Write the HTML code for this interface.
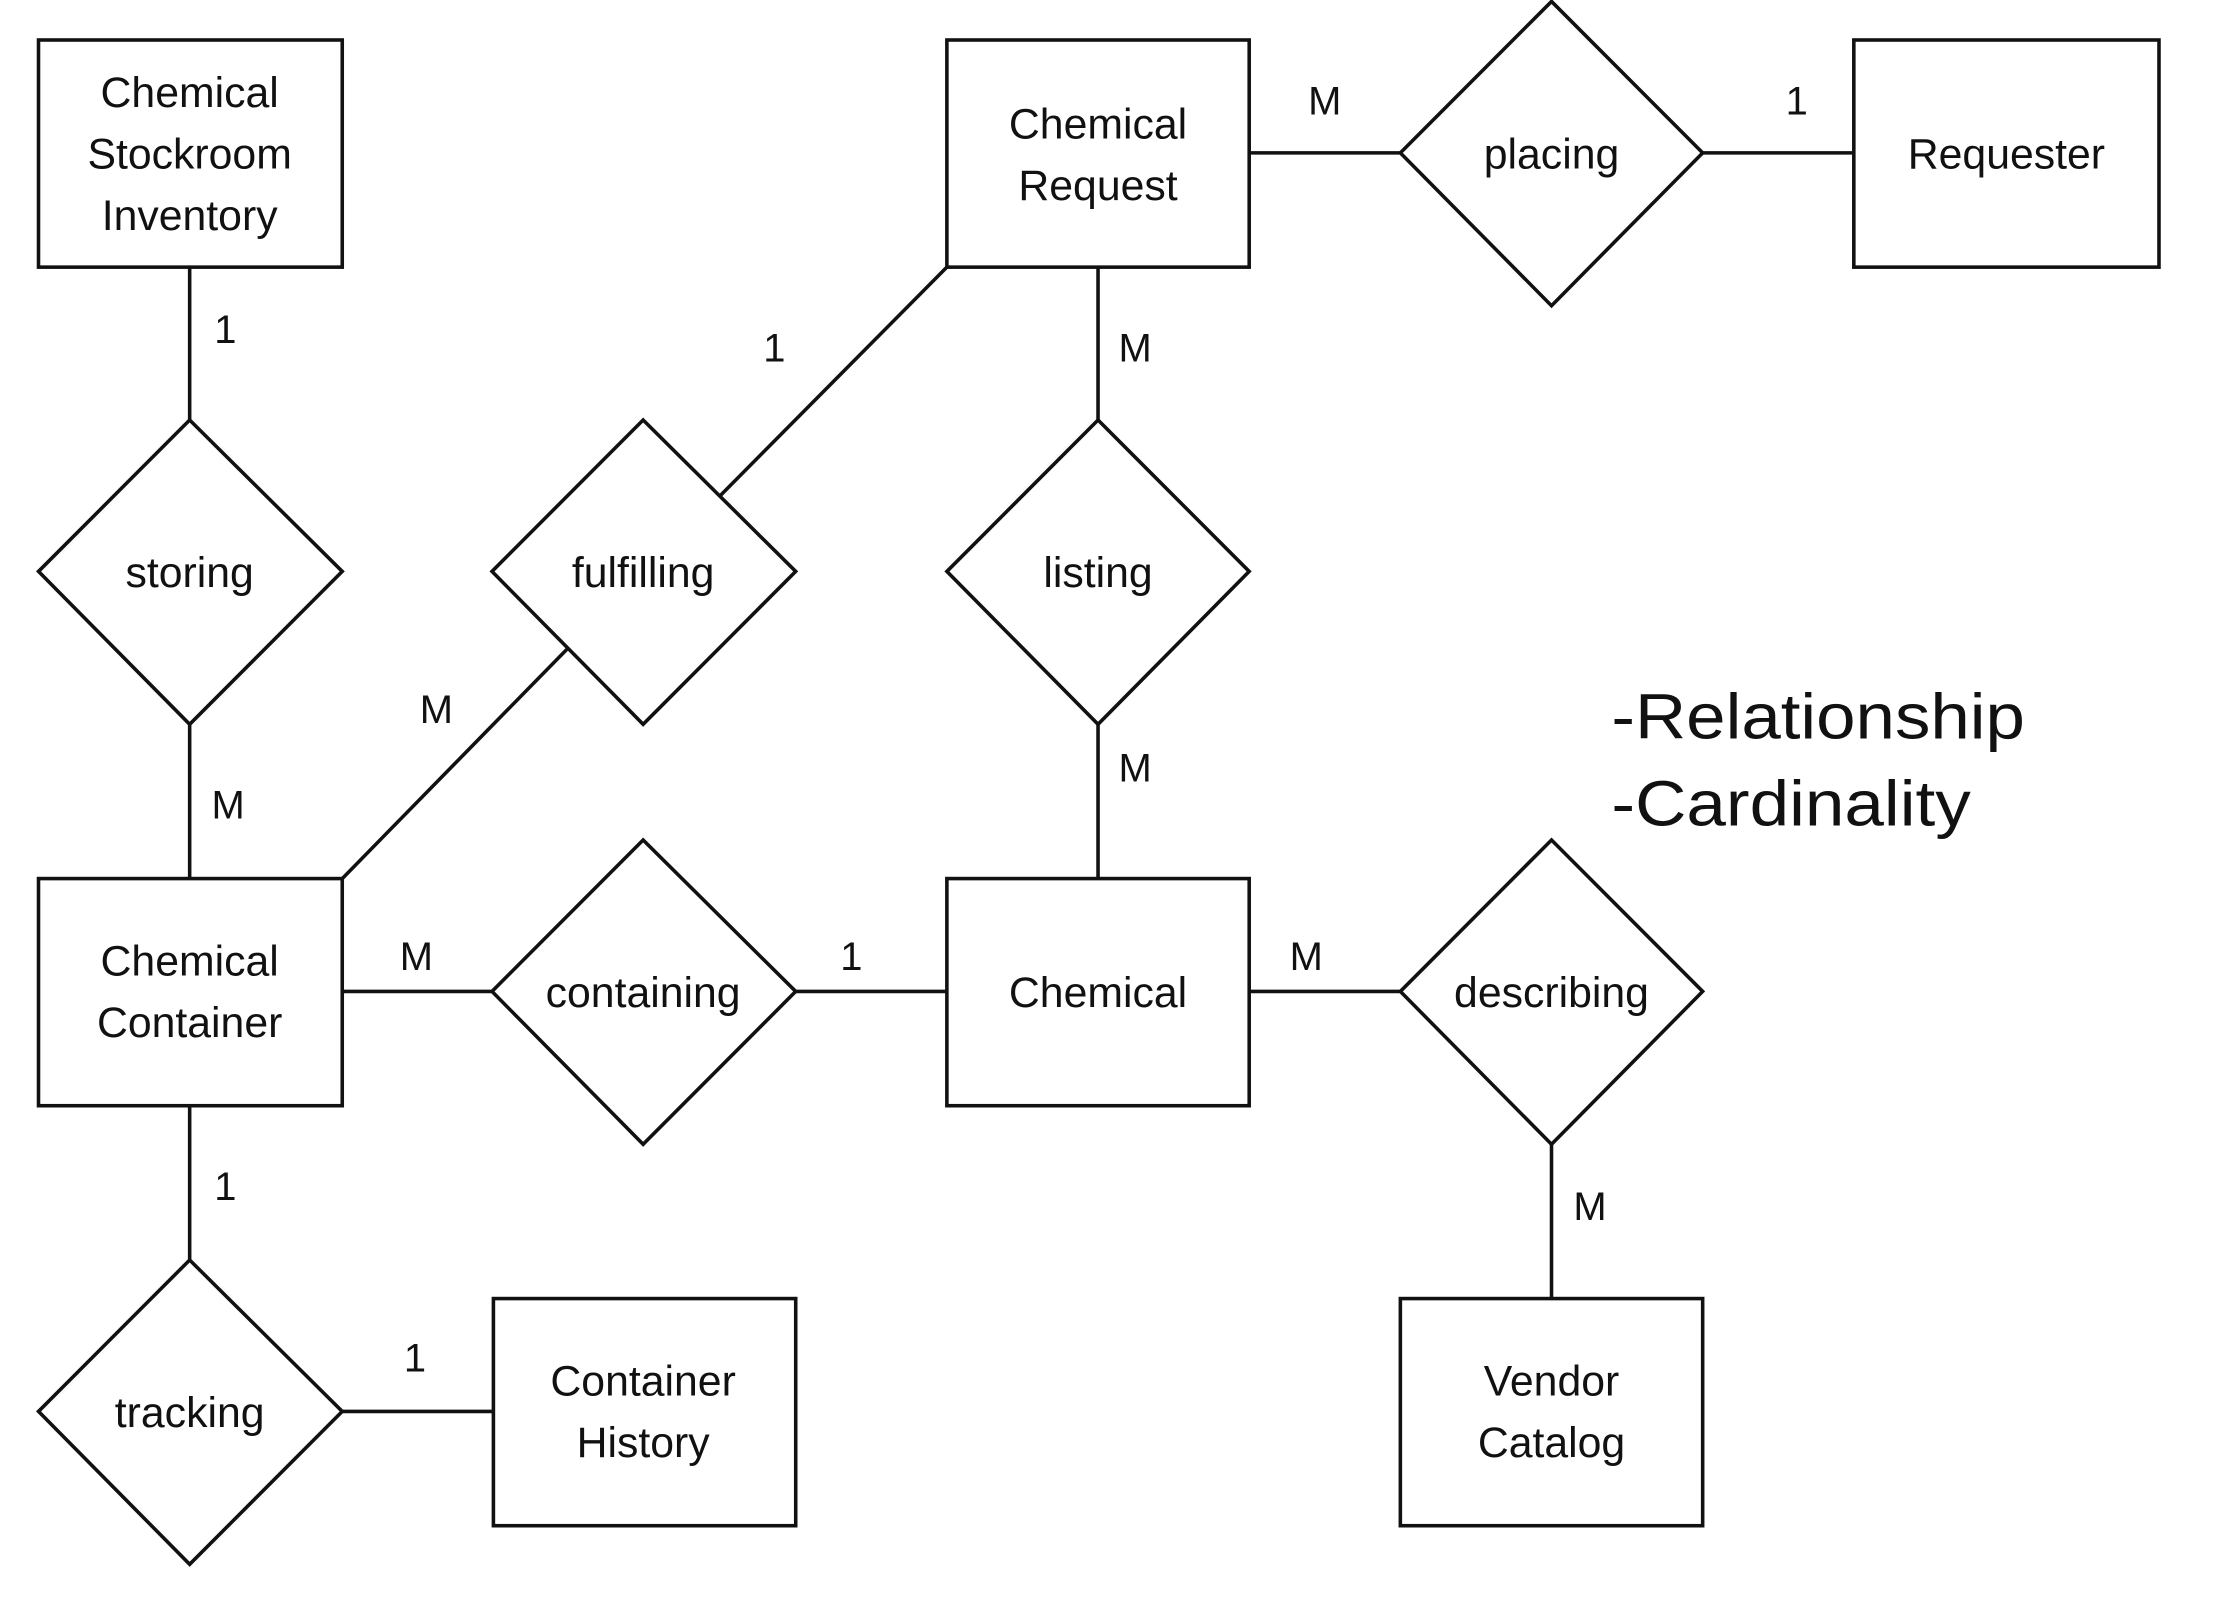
<!DOCTYPE html>
<html><head><meta charset="utf-8"><style>
html,body{margin:0;padding:0;background:#fff;}
svg{display:block;}
text{font-family:"Liberation Sans",sans-serif;fill:#111;}
</style></head><body>
<svg width="2236" height="1600" viewBox="0 0 1568 1120" preserveAspectRatio="none" xmlns="http://www.w3.org/2000/svg">
<rect width="1568" height="1120" fill="#fff"/>
<g stroke="#111" stroke-width="2.5" fill="none">
<line x1="133" y1="187" x2="133" y2="294"/>
<line x1="133" y1="507" x2="133" y2="615"/>
<line x1="876" y1="107" x2="982" y2="107"/>
<line x1="1194" y1="107" x2="1300" y2="107"/>
<line x1="770" y1="187" x2="770" y2="294"/>
<line x1="770" y1="507" x2="770" y2="615"/>
<line x1="664" y1="187" x2="505" y2="347"/>
<line x1="398" y1="454" x2="240" y2="615"/>
<line x1="240" y1="694" x2="346" y2="694"/>
<line x1="558" y1="694" x2="664" y2="694"/>
<line x1="876" y1="694" x2="982" y2="694"/>
<line x1="1088" y1="801" x2="1088" y2="909"/>
<line x1="133" y1="774" x2="133" y2="882"/>
<line x1="240" y1="988" x2="346" y2="988"/>
</g>
<g stroke="#111" stroke-width="2.5" fill="#fff">
<rect x="27" y="28" width="213" height="159"/>
<rect x="664" y="28" width="212" height="159"/>
<rect x="1300" y="28" width="214" height="159"/>
<rect x="27" y="615" width="213" height="159"/>
<rect x="664" y="615" width="212" height="159"/>
<rect x="346" y="909" width="212" height="159"/>
<rect x="982" y="909" width="212" height="159"/>
<polygon points="1088,1 1194,107 1088,214 982,107"/>
<polygon points="133,294 240,400 133,507 27,400"/>
<polygon points="451,294 558,400 451,507 345,400"/>
<polygon points="770,294 876,400 770,507 664,400"/>
<polygon points="451,588 558,694 451,801 345,694"/>
<polygon points="1088,588 1194,694 1088,801 982,694"/>
<polygon points="133,882 240,988 133,1095 27,988"/>
</g>
<g font-size="30" text-anchor="middle">
<text x="133" y="75">Chemical</text><text x="133" y="118">Stockroom</text><text x="133" y="161">Inventory</text>
<text x="770" y="97">Chemical</text><text x="770" y="140">Request</text>
<text x="1407" y="118">Requester</text>
<text x="133" y="683">Chemical</text><text x="133" y="726">Container</text>
<text x="770" y="705">Chemical</text>
<text x="451" y="977">Container</text><text x="451" y="1020">History</text>
<text x="1088" y="977">Vendor</text><text x="1088" y="1020">Catalog</text>
<text x="1088" y="118">placing</text>
<text x="133" y="411">storing</text>
<text x="451" y="411">fulfilling</text>
<text x="770" y="411">listing</text>
<text x="451" y="705">containing</text>
<text x="1088" y="705">describing</text>
<text x="133" y="999">tracking</text>
</g>
<g font-size="28" text-anchor="middle">
<text x="158" y="240">1</text><text x="160" y="573">M</text>
<text x="929" y="80">M</text><text x="1260" y="80">1</text>
<text x="543" y="253">1</text><text x="796" y="253">M</text>
<text x="306" y="506">M</text><text x="796" y="547">M</text>
<text x="292" y="679">M</text><text x="597" y="679">1</text>
<text x="916" y="679">M</text><text x="1115" y="854">M</text>
<text x="158" y="840">1</text><text x="291" y="960">1</text>
</g>
<g font-size="45">
<text x="1130" y="517" textLength="290" lengthAdjust="spacingAndGlyphs">-Relationship</text>
<text x="1130" y="578" textLength="252" lengthAdjust="spacingAndGlyphs">-Cardinality</text>
</g>
</svg>
</body></html>
